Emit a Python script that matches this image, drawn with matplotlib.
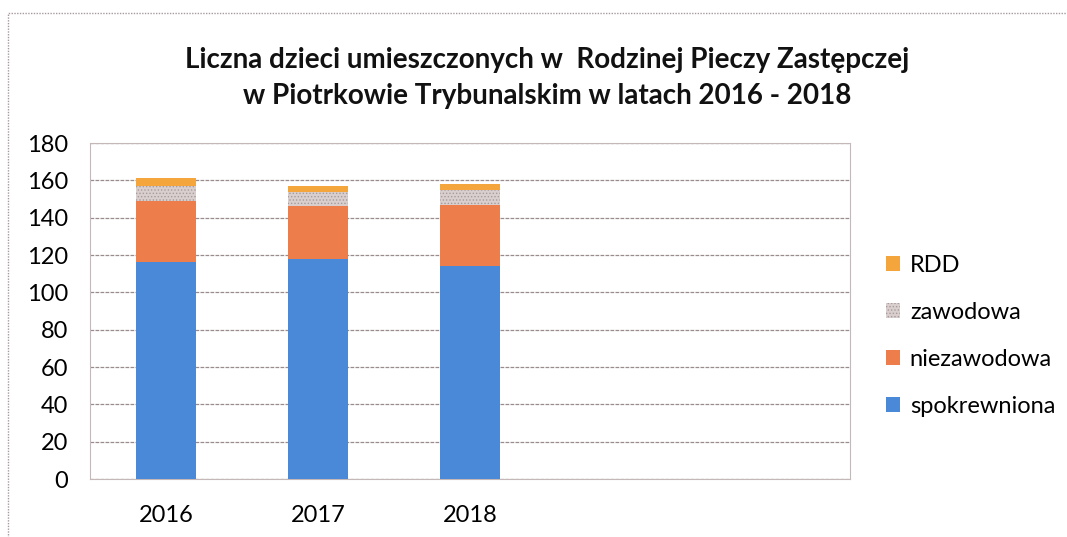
import matplotlib
matplotlib.use("Agg")
import matplotlib.pyplot as plt
from matplotlib.patches import Rectangle
import numpy as np

years = ["2016", "2017", "2018"]
spokrewniona = [116, 118, 114]
niezawodowa = [33, 28, 33]
zawodowa = [8, 8, 8]
rdd = [4, 3, 3]
yticks = [0, 20, 40, 60, 80, 100, 120, 140, 160, 180]
title = "Liczna dzieci umieszczonych w  Rodzinej Pieczy Zastępczej\nw Piotrkowie Trybunalskim w latach 2016 - 2018"

plt.rcParams['font.family'] = ['Lato', 'DejaVu Sans']

fig = plt.figure(figsize=(10.67, 5.37), dpi=100)
W, H = 1067, 537
ax = fig.add_axes([90 / W, (H - 479) / H, (850 - 90) / W, (479 - 143) / H])

# outer chart border (dotted)
fig.patches.append(Rectangle((8 / W, -0.1), 1.2, (H - 13) / H + 0.1, transform=fig.transFigure,
                             fill=False, edgecolor='#a89a9a', linewidth=1.0, linestyle=(0, (1, 1))))

x = np.arange(len(years))
w = 0.4
c_blue = '#4a88d8'
c_orange = '#ee7d4c'
c_gray = '#d9cfcf'
c_rdd = '#f4a63c'

b0 = np.array(spokrewniona)
b1 = b0 + np.array(niezawodowa)
b2 = b1 + np.array(zawodowa)

h1 = ax.bar(x, spokrewniona, w, color=c_blue, zorder=3, label='spokrewniona')
h2 = ax.bar(x, niezawodowa, w, bottom=b0, color=c_orange, zorder=3, label='niezawodowa')
plt.rcParams['hatch.linewidth'] = 0.6
h3 = ax.bar(x, zawodowa, w, bottom=b1, facecolor=c_gray, edgecolor='#a99a9a', hatch='.....',
            linewidth=0, zorder=3, label='zawodowa')
h4 = ax.bar(x, rdd, w, bottom=b2, color=c_rdd, zorder=3, label='RDD')

ax.set_xlim(-0.5, 4.5)
ax.set_ylim(0, 180)
ax.set_yticks(yticks)
ax.set_yticklabels([str(t) for t in yticks], fontsize=17)
ax.set_xticks(x)
ax.set_xticklabels(years, fontsize=17)
ax.tick_params(axis='y', length=0, pad=16)
ax.tick_params(axis='x', length=0, pad=19)
ax.grid(axis='y', color='#9a8c8c', linewidth=0.9, linestyle=(0, (3, 1)), zorder=0)
for s in ax.spines.values():
    s.set_color('#c4b8b8')
    s.set_linewidth(0.8)
    s.set_linestyle((0, (2, 1)))

leg = fig.legend(handles=[h4, h3, h2, h1], labels=['RDD', 'zawodowa', 'niezawodowa', 'spokrewniona'],
                 loc='upper left', bbox_to_anchor=(865 / W, (H - 234) / H), frameon=False,
                 fontsize=17, handlelength=0.6, handleheight=0.6, handletextpad=0.4,
                 labelspacing=1.1)

fig.text(547 / W, (H - 78) / H, title, ha='center', va='center', fontsize=20,
         fontweight='bold', linespacing=1.45, color='#111111')

fig.savefig("out.png", dpi=100)
